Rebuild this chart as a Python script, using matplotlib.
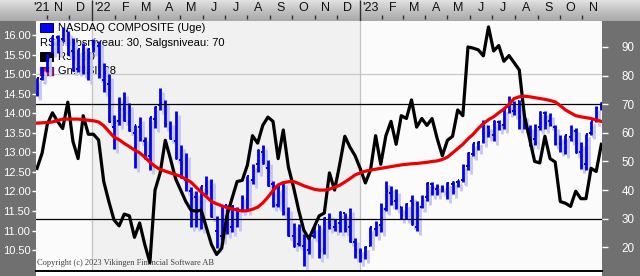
import matplotlib
matplotlib.use("Agg")
import matplotlib.pyplot as plt
import matplotlib.transforms as mtransforms
import matplotlib.dates as mdates
from matplotlib.patches import Rectangle
from matplotlib.colors import LinearSegmentedColormap
import numpy as np
import pandas as pd

plt.rcParams['font.family'] = ['Liberation Sans', 'DejaVu Sans']

# ---------------- data ----------------
week_start = pd.date_range("2021-10-11", periods=111, freq="7D")

opens = [14500, 14870, 15120, 15560, 15960, 15890, 16100, 15600, 15140, 15610, 15030, 15700,
         15730, 14850, 14750, 13650, 13800, 14120, 13780, 13500, 13640, 13290, 12900, 13850,
         14200, 14270, 13600, 13300, 12800, 12300, 12000, 11850, 11400, 12150, 12100, 11000,
         10850, 11650, 11100, 11560, 11500, 11800, 12300, 12700, 13000, 12600, 12200, 11650,
         12150, 11400, 10850, 10650, 10600, 10500, 10850, 11150, 10500, 11300, 11100, 11200,
         11450, 11100, 10700, 10450, 10560, 10600, 11050, 11150, 11550, 11950, 11750, 11600,
         11450, 11750, 11100, 11600, 11850, 12200, 12050, 12100, 12050, 12200, 12250, 12300,
         12650, 12950, 13200, 13300, 13650, 13450, 13780, 13700, 14150, 14050, 14300, 13950,
         13600, 13350, 13650, 14000, 13800, 13650, 13200, 13250, 13400, 13550, 13000, 12700,
         13500, 13800, 14150]
highs = [14900, 15175, 15505, 15971, 15990, 16212, 16100, 15920, 15640, 15800, 15660, 15900,
         15850, 15280, 15000, 13950, 14420, 14550, 14250, 13700, 13900, 13400, 13900, 14190,
         14646, 14350, 13800, 14050, 13180, 12980, 12100, 12000, 12150, 12400, 12320, 11370,
         11640, 11650, 11660, 11600, 11900, 12400, 12700, 13080, 13180, 12800, 12270, 12120,
         12270, 11600, 11200, 11170, 10900, 10860, 11110, 11150, 11340, 11450, 11300, 11500,
         11460, 11570, 10800, 10560, 10600, 11100, 11250, 11700, 12270, 12140, 12070, 11630,
         11700, 11900, 11750, 11900, 12230, 12250, 12180, 12160, 12230, 12260, 12300, 12700,
         13000, 13250, 13300, 13830, 13700, 13830, 13820, 14140, 14450, 14300, 14350, 13970,
         13700, 13720, 14060, 14050, 14000, 13700, 13430, 13450, 13710, 13620, 13260, 13480,
         13800, 14180, 14290]
lows = [14433, 14850, 15050, 15540, 15550, 15850, 15490, 15080, 15050, 15000, 14860, 15560,
        14900, 14530, 13770, 13094, 13700, 13790, 13540, 12587, 13300, 12830, 12555, 13620,
        14080, 13650, 13350, 12840, 12330, 12000, 11100, 11090, 11050, 11900, 11340, 10565,
        10750, 10900, 10950, 11100, 11500, 11500, 12200, 12500, 12700, 12140, 11600, 11600,
        11390, 10860, 10570, 10600, 10088, 10400, 10800, 10300, 10400, 11030, 11000, 10950,
        10950, 10700, 10300, 10200, 10265, 10600, 10850, 10950, 11500, 11650, 11550, 11300,
        11300, 11130, 11000, 11580, 11750, 11900, 11900, 11980, 11800, 11925, 12100, 12250,
        12550, 12900, 13050, 13230, 13400, 13300, 13580, 13600, 14000, 13950, 13600, 13600,
        13160, 13180, 13560, 13590, 13680, 13180, 13000, 12960, 13300, 12980, 12580, 12560,
        13450, 13780, 14090]
closes = [14897, 15090, 15498, 15971, 15860, 16057, 15491, 15085, 15630, 15169, 15653, 15645,
          14935, 14893, 13768, 13770, 14098, 13791, 13548, 13694, 13313, 12843, 13893, 14169,
          14261, 13711, 13351, 12839, 12335, 12145, 11805, 11354, 12131, 12013, 11340, 10798,
          11608, 11128, 11635, 11452, 11834, 12391, 12657, 13047, 12705, 12142, 11631, 12112,
          11448, 10868, 10576, 10652, 10321, 10860, 11102, 10475, 11323, 11146, 11226, 11461,
          11004, 10705, 10497, 10466, 10569, 11079, 11140, 11622, 12006, 11718, 11787, 11395,
          11690, 11138, 11631, 11824, 12222, 12088, 12124, 12073, 12227, 12235, 12284, 12658,
          12975, 13241, 13259, 13689, 13492, 13788, 13661, 14113, 14032, 14050, 13909, 13645,
          13291, 13590, 14031, 13761, 13708, 13211, 13219, 13431, 13407, 12984, 12643, 13478,
          13798, 14125, 14250]
rsi = [47.6, 53, 63, 67, 64, 61.5, 70.7, 57, 51, 66, 59.5, 59.5,
       57.5, 43, 36, 29.6, 27.5, 31.6, 31, 23.5, 28.5, 21, 14.7, 40,
       46, 57.4, 51, 44, 40, 36, 33, 32.6, 33, 27, 21, 17.5,
       19.7, 31, 37, 43, 43.4, 48.7, 59, 56.4, 62.6, 65.5, 64, 51,
       61, 48, 41, 33, 26, 23, 27, 31, 32, 46, 40, 49,
       58.8, 55, 52, 47.5, 42.5, 47, 59, 49, 59, 64, 56, 66,
       65, 71.5, 62, 65, 62.6, 65, 58, 52, 57.4, 58.8, 68, 66,
       90, 89.6, 89, 86.9, 97, 88.6, 90.5, 85, 87, 84.5, 82, 66,
       58, 50, 49.5, 58.8, 51, 49.8, 36, 35.4, 34.3, 39.6, 37, 37,
       47.6, 46.5, 56]
rsi_avg = [63.4, 63.5, 63.6, 63.8, 64.3, 64.8, 64.8, 64.8, 64.8, 64.6, 64.4, 64.2,
           63.8, 62.5, 60.5, 58.5, 57.6, 56.3, 55.2, 54, 53, 51.5, 49.8, 48.3,
           47.2, 46.6, 46, 45.4, 44.8, 43.8, 42.8, 41, 39.3, 37.7, 36, 35.2,
           34.5, 33.9, 33.4, 33.1, 32.7, 32.8, 33.3, 34, 35.5, 37.5, 39.8, 41.8,
           42.6, 42.9, 43, 42.3, 41.5, 40.9, 40.3, 40, 40, 40.3, 41, 41.7,
           42.8, 44, 45.3, 46, 46.6, 47, 47.3, 47.6, 47.9, 48.2, 48.5, 48.8,
           49, 49.2, 49.3, 49.5, 49.7, 50, 50.2, 50.7, 51.5, 53, 54.5, 56,
           57.9, 59.5, 61.5, 63.2, 64.6, 65.6, 67, 68.3, 70, 72, 72.6, 72.8,
           72.6, 72.3, 72, 71.7, 71.3, 70.8, 69.5, 68, 67, 66, 65.6, 65.3,
           65, 64.5, 64]

price_ticks = [10.5, 11.0, 11.5, 12.0, 12.5, 13.0, 13.5, 14.0, 14.5, 15.0, 15.5, 16.0]
rsi_ticks = [20, 30, 40, 50, 60, 70, 80, 90]
rsi_levels = [30, 70]
month_letters = "JFMAMJJASOND"

legend_series = "NASDAQ COMPOSITE (Uge)"
legend_levels = "RSI Købsniveau: 30, Salgsniveau: 70"
legend_rsi = "RSI: 10"
legend_avg = "Gn. RSI: 28"
copyright_text = "Copyright (c) 2023 Vikingen Financial Software AB"

# ---------------- layout ----------------
W, H = 640, 276
fig = plt.figure(figsize=(W / 100, H / 100), dpi=100, facecolor='white')


def fx(px):
    return px / W


def fy(py):
    return 1 - py / H


PL, PR, PT, PB = 36, 602, 21, 271
PX_PER_DAY = (359.5 - 92) / 365.0
band = '#707070'

# side bands (drawn in a background axes covering the figure)
ax_side = fig.add_axes([0, 0, 1, 1], zorder=-5)
ax_side.axis('off')
ax_side.add_patch(Rectangle((0, PT), PL, H - PT, facecolor=band, edgecolor='none'))
ax_side.add_patch(Rectangle((PR, PT), W - PR, H - PT, facecolor=band, edgecolor='none'))
grad = np.linspace(0, 1, 50).reshape(-1, 1)
cmap = LinearSegmentedColormap.from_list('g', ['#e2e2e2', '#c2c2c2', '#a9a9a9'])
ax_side.imshow(grad, aspect='auto', cmap=cmap, extent=[0, W, PT, 0], zorder=1)
ax_side.set_xlim(0, W)
ax_side.set_ylim(H, 0)

ax = fig.add_axes([fx(PL), fy(PB), fx(PR) - fx(PL), (PB - PT) / H])
ref = mdates.date2num(pd.Timestamp('2022-01-01'))
xlo = ref - (92 - PL) / PX_PER_DAY
xhi = ref + (PR - 92) / PX_PER_DAY
ax.set_xlim(xlo, xhi)
p_top = 16.0 + (35 - PT) / 39.1
p_bot = 16.0 - (PB - 35) / 39.1
ax.set_ylim(p_bot, p_top)
ax.set_facecolor('#fbfbfb')

y2022 = mdates.date2num(pd.Timestamp('2022-01-01'))
y2023 = mdates.date2num(pd.Timestamp('2023-01-01'))
ax.axvspan(y2022, y2023, color='#f1f1f1', zorder=0)
for yl in (y2022, y2023):
    ax.axvline(yl, color='#c4c4c4', lw=0.9, zorder=0.5)
ax.axhline(15.0, color='#c8c8c8', lw=0.9, zorder=0.5)

x = mdates.date2num(week_start + pd.Timedelta(days=7))
hi = np.array(highs) / 1000.0
lo = np.array(lows) / 1000.0
op = np.array(opens) / 1000.0
cl = np.array(closes) / 1000.0

shadow_tr = mtransforms.offset_copy(ax.transData, fig=fig, x=3, y=-4, units='dots')
for tr, col, z in [(shadow_tr, '#c6c6ef', 2), (ax.transData, '#0000ee', 3)]:
    ax.vlines(x, lo, hi, colors=col, lw=2.0, transform=tr, zorder=z)
    ax.hlines(op, x - 2.3, x, colors=col, lw=1.4, transform=tr, zorder=z)
    ax.hlines(cl, x, x + 2.3, colors=col, lw=1.4, transform=tr, zorder=z)

for sp in ['top', 'left', 'right']:
    ax.spines[sp].set_visible(False)
ax.spines['bottom'].set_color('black')
ax.spines['bottom'].set_linewidth(1.4)
ax.set_xticks([])
ax.set_yticks(price_ticks)
ax.set_yticklabels(['%.2f' % v for v in price_ticks])
ax.tick_params(axis='y', colors='white', labelcolor='white', labelsize=8,
               length=3, width=1, pad=1, direction='out')

# legend (behind the bars)
lt = fig.transFigure
ax.add_patch(Rectangle((fx(40), fy(31.5)), fx(13), 8 / H, transform=lt,
                       facecolor='#0000ff', edgecolor='#000060', lw=0.7, zorder=1))
ax.text(fx(58), fy(28), legend_series, transform=lt, fontsize=8, va='center', ha='left', zorder=1)
ax.text(fx(40), fy(43), legend_levels, transform=lt, fontsize=8, va='center', ha='left', zorder=1)
ax.add_patch(Rectangle((fx(40), fy(60.5)), fx(13), 8 / H, transform=lt,
                       facecolor='black', edgecolor='black', lw=0.7, zorder=1))
ax.text(fx(58), fy(57), legend_rsi, transform=lt, fontsize=8, va='center', ha='left', zorder=1)
ax.add_patch(Rectangle((fx(40), fy(74.5)), fx(13), 8 / H, transform=lt,
                       facecolor='#e02020', edgecolor='#402080', lw=0.9, zorder=1))
ax.text(fx(58), fy(71), legend_avg, transform=lt, fontsize=8, va='center', ha='left', zorder=1)

ax.text(fx(37), fy(263), copyright_text, transform=lt, fontsize=6, va='center', ha='left',
        family=['Liberation Serif', 'DejaVu Serif'], color='#404040', zorder=1)

# RSI axis
ax2 = ax.twinx()
r_top = 90 + (47 - PT) / 2.866
r_bot = 20 - (PB - 247.3) / 2.866
ax2.set_ylim(r_bot, r_top)
for lv in rsi_levels:
    ax2.axhline(lv, color='black', lw=0.9, zorder=1)
ax2.plot(x, rsi, color='black', lw=2.3, zorder=3)
ax2.plot(x, rsi_avg, color='#ee0000', lw=2.3, zorder=4)
for sp in ax2.spines.values():
    sp.set_visible(False)
ax2.set_yticks(rsi_ticks)
ax2.set_yticklabels([str(v) for v in rsi_ticks])
ax2.tick_params(axis='y', colors='white', labelcolor='white', labelsize=8.4,
                length=4, width=1, pad=10, direction='out')

# top month axis
ax_top = fig.add_axes([fx(PL), fy(PT), fx(PR) - fx(PL), PT / H])
ax_top.set_xlim(xlo, xhi)
ax_top.set_ylim(PT, 0)
ax_top.axis('off')
months = pd.date_range('2021-10-01', '2023-12-01', freq='MS')
for m in months:
    xm = mdates.date2num(m)
    if xlo <= xm <= xhi:
        if m.month == 1:
            ax_top.vlines(xm, 0, PT, color='#303030', lw=1.0)
        else:
            ax_top.vlines(xm, 15, 19, color='#303030', lw=1.0)
    mid = mdates.date2num(m + pd.Timedelta(days=15))
    lab = ("'%02d" % (m.year % 100)) if (m.month == 1 or m == months[0]) else month_letters[m.month - 1]
    if mid < xlo:
        mid = xlo + 6 / PX_PER_DAY
    if mid > xhi:
        continue
    ax_top.text(mid, 8, lab, ha='center', va='center', fontsize=9, color='#101010')

fig.savefig('out.png', dpi=100, facecolor=fig.get_facecolor())
